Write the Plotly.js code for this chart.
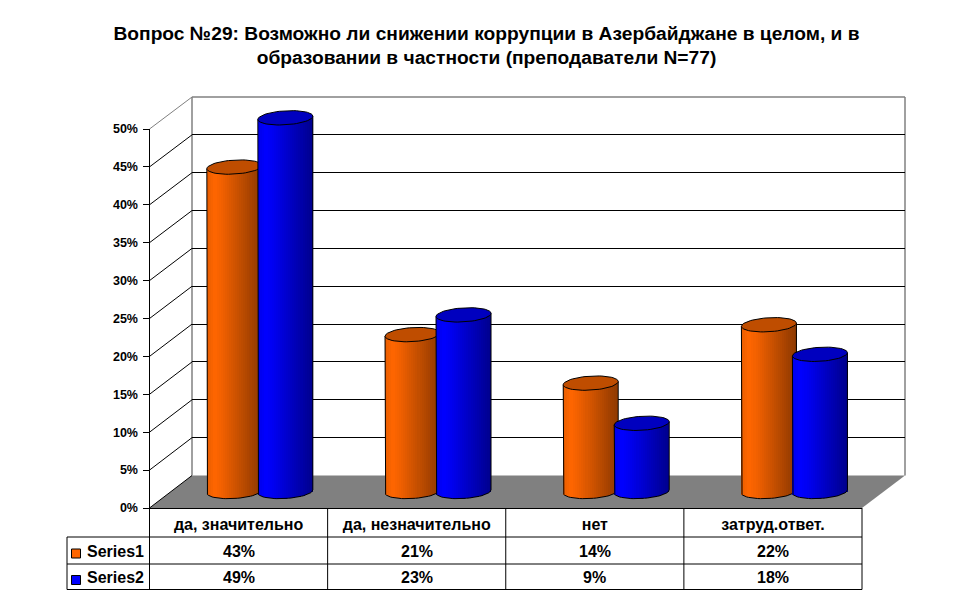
<!DOCTYPE html>
<html><head><meta charset="utf-8">
<script src="https://cdn.plot.ly/plotly-3.0.1.min.js"></script>
<style>html,body{margin:0;padding:0;background:#fff}</style></head>
<body><div id="chart" style="width:970px;height:604px"></div>
<script>
const categories = ["да, значительно","да, незначительно","нет","затруд.ответ."];
const seriesNames = ["Series1","Series2"];
const series1 = [42.8,20.7,14.3,22];
const series2 = [49.3,23.3,9,18.1];
const tableRow1 = ["43%","21%","14%","22%"];
const tableRow2 = ["49%","23%","9%","18%"];
const tickValues = [0,5,10,15,20,25,30,35,40,45,50];
const tickLabels = ["0%","5%","10%","15%","20%","25%","30%","35%","40%","45%","50%"];
const orangeRamp = ["#E85D00","#FF6600","#F06000","#DC5800","#C85000","#B44800","#A04000","#8F3A00"];
const blueRamp = ["#0000E8","#0000FF","#0000F0","#0000DC","#0000C8","#0000B4","#0000A0","#00008C"];
const capColors = ["#BF4D00","#0000BF"];

const W=970,H=604;
const px=x=>x/W, py=y=>1-y/H;
const unitY=379/50, unitX=178.19, pad=3;
const front={x0:149.5,x1:862,y0:508,y1:129};
const back ={x0:192,x1:905,y0:475.5,y1:97};
const mid  ={x0:170.75,x1:883.5,y0:491.5+pad*unitY,y1:112.5-pad*unitY};
const xdom=p=>[px(p.x0),px(p.x1)], ydom=p=>[py(p.y0),py(p.y1)];
const xr=[-0.5,3.5], yr=[0,50], ymid=[-pad,50+pad];
const offset=25.5/unitX, rx=27.5/unitX, ry=7/unitY, tilt=1.6/unitY, SL=27;

function mix(ramp,t){
  const p=t*(ramp.length-1), i=Math.min(Math.floor(p),ramp.length-2), f=p-i;
  const c=h=>[1,3,5].map(k=>parseInt(h.substr(k,2),16));
  const a=c(ramp[i]),b=c(ramp[i+1]);
  return "rgb("+a.map((v,k)=>Math.round(v+(b[k]-v)*f)).join(",")+")";
}
function cylinder(vals,sign,ramp,cap,xa,ya){
  const bx=[],by=[],bb=[],bc=[];
  const w=2*rx/SL;
  vals.forEach((v,i)=>{
    const c=i+sign*offset;
    for(let s=0;s<SL;s++){
      const t=(s+0.5)/SL, u=2*t-1;
      const low=ry*Math.sqrt(1-u*u)-tilt*u;
      bx.push(c+u*rx); bb.push(-low); by.push(v+low+tilt*u); bc.push(mix(ramp,t));
    }
  });
  const out=[{type:"bar",x:bx,y:by,base:bb,width:w*1.15,xaxis:xa,yaxis:ya,
    marker:{color:bc,line:{width:0}},hoverinfo:"skip",showlegend:false}];
  const ox=[],oy=[],cx=[],cy=[];
  vals.forEach((v,i)=>{
    const c=i+sign*offset;
    ox.push(c-rx); oy.push(v-tilt);
    for(let a=180;a<=360;a+=6){
      const r=a*Math.PI/180;
      ox.push(c+rx*Math.cos(r)); oy.push(ry*Math.sin(r)+tilt*Math.cos(r));
    }
    ox.push(c+rx); oy.push(v+tilt); ox.push(null); oy.push(null);
    for(let a=0;a<=360;a+=6){
      const r=a*Math.PI/180;
      cx.push(c+rx*Math.cos(r)); cy.push(v+ry*Math.sin(r)+tilt*Math.cos(r));
    }
    cx.push(null); cy.push(null);
  });
  out.push({type:"scatter",mode:"lines",x:ox,y:oy,xaxis:xa,yaxis:ya,cliponaxis:false,
    line:{color:"#000",width:1},hoverinfo:"skip",showlegend:false});
  out.push({type:"scatter",mode:"lines",x:cx,y:cy,xaxis:xa,yaxis:ya,cliponaxis:false,fill:"toself",
    fillcolor:cap,line:{color:"#000",width:1},hoverinfo:"skip",showlegend:false});
  return out;
}
const data=[
  {type:"scatter",mode:"none",x:[0],y:[0],xaxis:"x",yaxis:"y",hoverinfo:"skip",showlegend:false},
  ...cylinder(series1,-1,orangeRamp,capColors[0],"x2","y2"),
  ...cylinder(series2, 1,blueRamp,capColors[1],"x3","y3"),
  {type:"scatter",mode:"none",x:[0],y:[0],xaxis:"x4",yaxis:"y4",hoverinfo:"skip",showlegend:false}
];
const hidden={showgrid:false,zeroline:false,showticklabels:false,ticks:"",showline:false,fixedrange:true};
const line=(x0,y0,x1,y1,color,width)=>({type:"line",xref:"paper",yref:"paper",layer:"below",
  x0:px(x0),y0:py(y0),x1:px(x1),y1:py(y1),line:{color:color||"#000",width:width||1}});
const shapes=[
  {type:"path",xref:"paper",yref:"paper",layer:"below",fillcolor:"#808080",line:{width:0},
   path:`M${px(front.x0)},${py(front.y0)}L${px(back.x0)},${py(back.y0)}L${px(back.x1)},${py(back.y0)}L${px(front.x1)},${py(front.y0)}Z`},
  line(back.x0,back.y1,back.x0,back.y0,"#808080",1.5),
  line(back.x0,back.y1,back.x1,back.y1,"#808080",1.5),
  line(back.x1,back.y1,back.x1,back.y0,"#808080",1.5),
];
tickValues.forEach(v=>{
  const top=v===50;
  shapes.push(line(front.x0,front.y0-v*unitY,back.x0,back.y0-v*(back.y0-back.y1)/50,top?"#808080":"#000",1));
});
// data table rules
[537,564,589.5].forEach(y=>shapes.push(line(67,y,front.x1,y)));
shapes.push(line(67,537,67,589.5));
for(let i=0;i<=4;i++){const x=front.x0+i*178.125; shapes.push(line(x,508,x,589.5));}
// legend keys
[[549,558,"#FF6600"],[575.5,584.5,"#0000FF"]].forEach(k=>shapes.push({type:"rect",xref:"paper",yref:"paper",layer:"above",
  x0:px(71.5),x1:px(80.5),y0:py(k[1]),y1:py(k[0]),fillcolor:k[2],line:{color:"#000",width:1}}));
const cellFont={family:"Liberation Sans",size:16,color:"#000"};
const annotations=[];
[tableRow1,tableRow2].forEach((vals,r)=>{
  const y=[551,577.5][r];
  annotations.push({xref:"paper",yref:"paper",x:px(84.5),y:py(y),xanchor:"left",yanchor:"middle",showarrow:false,
    text:"<b>"+seriesNames[r]+"</b>",font:cellFont});
  vals.forEach((v,i)=>annotations.push({xref:"x4",yref:"paper",x:i,y:py(y),xanchor:"center",yanchor:"middle",showarrow:false,
    text:"<b>"+v+"</b>",font:cellFont}));
});
const layout={
  width:W,height:H,margin:{l:0,r:0,t:0,b:0},paper_bgcolor:"#fff",plot_bgcolor:"rgba(0,0,0,0)",
  showlegend:false,barmode:"overlay",bargap:0,
  font:{family:"Liberation Sans",color:"#000"},
  title:{text:"<b>Вопрос №29: Возможно ли снижении коррупции в Азербайджане в целом, и в<br>образовании в частности (преподаватели N=77)</b>",
    x:486.5/W,xanchor:"center",y:py(39.5),yanchor:"top",font:{family:"Liberation Sans",size:19.2,color:"#000"}},
  xaxis:{...hidden,domain:xdom(back),range:xr},
  yaxis:{...hidden,domain:ydom(back),range:yr,tickvals:tickValues,showgrid:true,gridcolor:"#000",gridwidth:1},
  xaxis2:{...hidden,domain:xdom(mid),range:xr,anchor:"y2"},
  yaxis2:{...hidden,domain:ydom(mid),range:ymid,anchor:"x2"},
  xaxis3:{...hidden,domain:xdom(mid),range:xr,anchor:"y3"},
  yaxis3:{...hidden,domain:ydom(mid),range:ymid,anchor:"x3"},
  xaxis4:{...hidden,domain:xdom(front),range:xr,anchor:"y4",showticklabels:true,showline:true,linecolor:"#000",linewidth:1,
    tickvals:[0,1,2,3],ticktext:categories.map(c=>"<b>"+c+"</b>"),ticklabelstandoff:2,tickangle:0,tickfont:cellFont},
  yaxis4:{...hidden,domain:ydom(front),range:yr,anchor:"x4",showticklabels:true,showline:true,linecolor:"#000",linewidth:1,
    ticks:"outside",ticklen:6,tickcolor:"#000",tickwidth:1,tickvals:tickValues,ticktext:tickLabels.map(t=>"<b>"+t+"</b>"),
    tickfont:{family:"Liberation Sans",size:12.5,color:"#000"},ticklabelstandoff:2},
  shapes,annotations
};
Plotly.newPlot("chart",data,layout,{displayModeBar:false,staticPlot:true});
</script></body></html>
